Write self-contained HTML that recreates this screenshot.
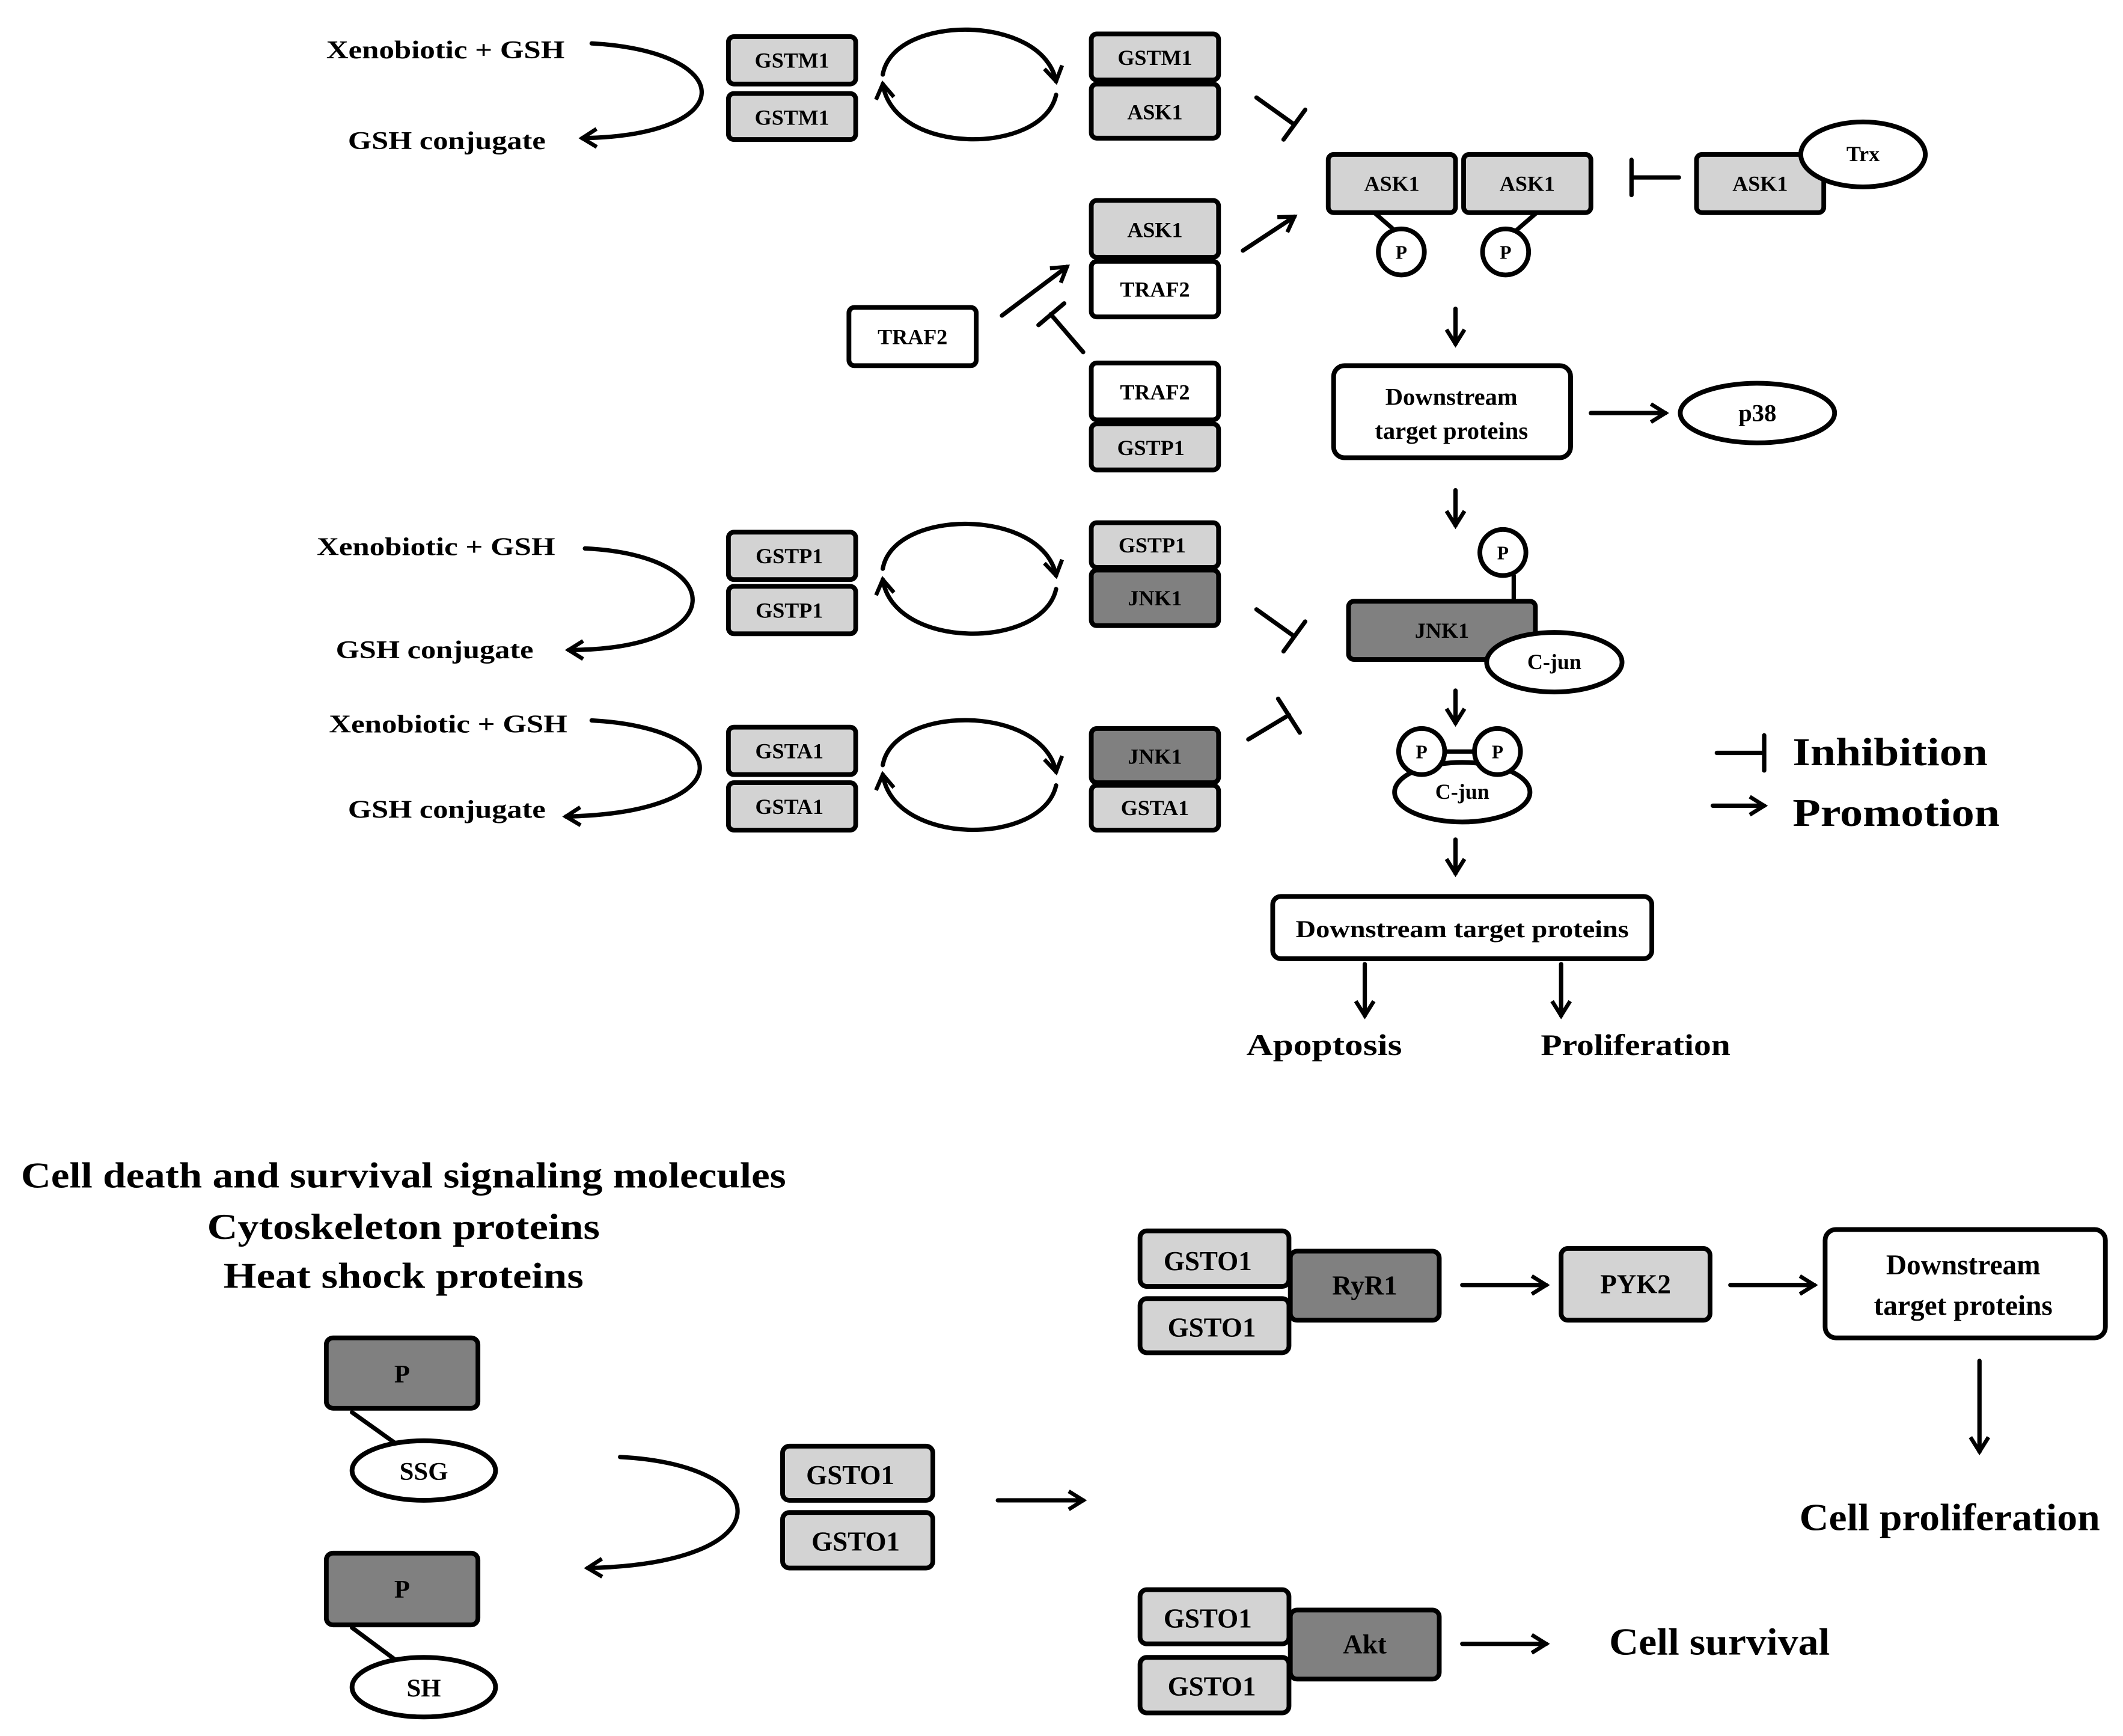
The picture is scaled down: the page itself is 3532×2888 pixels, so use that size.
<!DOCTYPE html>
<html><head><meta charset="utf-8"><style>html,body{margin:0;padding:0;background:#fff}svg{display:block}</style></head><body>
<svg width="3532" height="2888" viewBox="0 0 1568 1282" xmlns="http://www.w3.org/2000/svg" font-family="'Liberation Serif',serif" font-weight="bold">
<defs>
<marker id="a" viewBox="0 0 12 12" refX="10" refY="6" markerWidth="5" markerHeight="5" orient="auto" markerUnits="strokeWidth"><polyline points="2,1 10,6 2,11" fill="none" stroke="#000" stroke-width="2.2"/></marker>
</defs>
<rect width="1568" height="1282" fill="#fff"/>
<g stroke="#000" stroke-width="3.2" fill="none" stroke-linecap="round">
<path d="M437,32 C545,38 548,100 430,102" marker-end="url(#a)"/>
<path d="M432,405 C540,410 540,480 420,480" marker-end="url(#a)"/>
<path d="M437,532 C545,538 548,600 418,603" marker-end="url(#a)"/>
<path d="M458,1076 C575,1082 580,1155 434,1158" marker-end="url(#a)"/>
<path d="M652,55 C660,10 770,10 780,60" marker-end="url(#a)"/>
<path d="M780,70 C770,115 660,115 652,62" marker-end="url(#a)"/>
<path d="M652,420 C660,375 770,375 780,425" marker-end="url(#a)"/>
<path d="M780,435 C770,480 660,480 652,428" marker-end="url(#a)"/>
<path d="M652,565 C660,520 770,520 780,570" marker-end="url(#a)"/>
<path d="M780,580 C770,625 660,625 652,572" marker-end="url(#a)"/>
<path d="M918,185 L956,160" marker-end="url(#a)"/>
<path d="M740,233 L788,197" marker-end="url(#a)"/>
<path d="M1075,228 L1075,254" marker-end="url(#a)"/>
<path d="M1175,305 L1230,305" marker-end="url(#a)"/>
<path d="M1075,362 L1075,388" marker-end="url(#a)"/>
<path d="M1075,510 L1075,534" marker-end="url(#a)"/>
<path d="M1075,620 L1075,645" marker-end="url(#a)"/>
<path d="M1008,712 L1008,750" marker-end="url(#a)"/>
<path d="M1153,712 L1153,750" marker-end="url(#a)"/>
<path d="M1265,595 L1303,595" marker-end="url(#a)"/>
<path d="M737,1108 L800,1108" marker-end="url(#a)"/>
<path d="M1080,949 L1142,949" marker-end="url(#a)"/>
<path d="M1278,949 L1340,949" marker-end="url(#a)"/>
<path d="M1462,1005 L1462,1072" marker-end="url(#a)"/>
<path d="M1080,1214 L1142,1214" marker-end="url(#a)"/>
<path d="M928,72 L956,92 M948,103 L964,81"/>
<path d="M928,450 L956,470 M948,481 L964,459"/>
<path d="M922,546 L952,528 M944,516 L960,541"/>
<path d="M1240,131 L1205,131 M1205,118 L1205,144"/>
<path d="M800,260 L776,232 M767,240 L786,224"/>
<path d="M1268,556 L1303,556 M1303,543 L1303,569"/>
<path d="M1015,157 L1030,170 M1135,157 L1120,170 M1118,425 L1118,445 M1066,555 L1090,555 M260,1043 L295,1068 M260,1202 L295,1228"/>
</g>
<g stroke="#000" stroke-width="3.5">
<g fill="#d3d3d3">
<rect x="538" y="27" width="94" height="35" rx="4"/><rect x="538" y="69" width="94" height="34" rx="4"/>
<rect x="806" y="25" width="94" height="34" rx="4"/><rect x="806" y="62" width="94" height="40" rx="4"/>
<rect x="981" y="114" width="94" height="43" rx="4"/><rect x="1081" y="114" width="94" height="43" rx="4"/>
<rect x="1253" y="114" width="94" height="43" rx="4"/>
<rect x="806" y="148" width="94" height="42" rx="4"/>
<rect x="806" y="313" width="94" height="34" rx="4"/>
<rect x="538" y="393" width="94" height="35" rx="4"/><rect x="538" y="433" width="94" height="35" rx="4"/>
<rect x="806" y="386" width="94" height="33" rx="4"/>
<rect x="538" y="537" width="94" height="35" rx="4"/><rect x="538" y="578" width="94" height="35" rx="4"/>
<rect x="806" y="580" width="94" height="33" rx="4"/>
<rect x="578" y="1068" width="111" height="40" rx="5"/><rect x="578" y="1117" width="111" height="41" rx="5"/>
<rect x="842" y="909" width="110" height="41" rx="5"/><rect x="842" y="959" width="110" height="40" rx="5"/>
<rect x="1153" y="922" width="110" height="53" rx="5"/>
<rect x="842" y="1174" width="110" height="40" rx="5"/><rect x="842" y="1224" width="110" height="41" rx="5"/>
</g>
<g fill="#808080">
<rect x="806" y="421" width="94" height="41" rx="4"/>
<rect x="806" y="538" width="94" height="40" rx="4"/>
<rect x="996" y="444" width="138" height="43" rx="4"/>
<rect x="241" y="988" width="112" height="52" rx="5"/>
<rect x="241" y="1147" width="112" height="53" rx="5"/>
<rect x="953" y="924" width="110" height="51" rx="5"/>
<rect x="953" y="1189" width="110" height="51" rx="5"/>
</g>
<g fill="#fff">
<ellipse cx="1376" cy="114" rx="46" ry="24"/>
<rect x="806" y="193" width="94" height="41" rx="4"/>
<rect x="627" y="227" width="94" height="43" rx="4"/>
<rect x="806" y="268" width="94" height="42" rx="4"/>
<rect x="985" y="270" width="175" height="68" rx="8"/>
<ellipse cx="1298" cy="305" rx="57" ry="22"/>
<circle cx="1035" cy="186" r="17"/><circle cx="1112" cy="186" r="17"/>
<circle cx="1110" cy="408" r="17"/>
<ellipse cx="1148" cy="489" rx="50" ry="22"/>
<ellipse cx="1080" cy="585" rx="50" ry="22"/>
<circle cx="1050" cy="555" r="17"/><circle cx="1106" cy="555" r="17"/>
<rect x="940" y="662" width="280" height="46" rx="6"/>
<ellipse cx="313" cy="1086" rx="53" ry="22"/>
<ellipse cx="313" cy="1246" rx="53" ry="22"/>
<rect x="1348" y="908" width="207" height="80" rx="8"/>
</g>
</g>
<g text-anchor="middle" font-size="16" fill="#000">
<text x="585" y="50">GSTM1</text><text x="585" y="92">GSTM1</text>
<text x="853" y="48">GSTM1</text><text x="853" y="88">ASK1</text>
<text x="1028" y="141">ASK1</text><text x="1128" y="141">ASK1</text>
<text x="1300" y="141">ASK1</text><text x="1376" y="119">Trx</text>
<text x="853" y="175">ASK1</text><text x="853" y="219">TRAF2</text>
<text x="674" y="254">TRAF2</text>
<text x="853" y="295">TRAF2</text><text x="850" y="336">GSTP1</text>
<text x="583" y="416">GSTP1</text><text x="583" y="456">GSTP1</text>
<text x="851" y="408">GSTP1</text><text x="853" y="447">JNK1</text>
<text x="583" y="560">GSTA1</text><text x="583" y="601">GSTA1</text>
<text x="853" y="564">JNK1</text><text x="853" y="602">GSTA1</text>
<text x="1065" y="471">JNK1</text><text x="1148" y="494">C-jun</text><text x="1080" y="590">C-jun</text>
<text x="1035" y="191" font-size="14">P</text><text x="1112" y="191" font-size="14">P</text>
<text x="1110" y="413" font-size="14">P</text>
<text x="1050" y="560" font-size="14">P</text><text x="1106" y="560" font-size="14">P</text>
</g>
<g text-anchor="middle" fill="#000" lengthAdjust="spacingAndGlyphs">
<text x="1072" y="299" font-size="18">Downstream</text><text x="1072" y="324" font-size="18">target proteins</text>
<text x="1298" y="311" font-size="18">p38</text>
<text x="1080" y="692" font-size="18" textLength="246" lengthAdjust="spacingAndGlyphs">Downstream target proteins</text>
<text x="329" y="43" font-size="19" textLength="176" lengthAdjust="spacingAndGlyphs">Xenobiotic + GSH</text><text x="330" y="110" font-size="19" textLength="146" lengthAdjust="spacingAndGlyphs">GSH conjugate</text>
<text x="322" y="410" font-size="19" textLength="176" lengthAdjust="spacingAndGlyphs">Xenobiotic + GSH</text><text x="321" y="486" font-size="19" textLength="146" lengthAdjust="spacingAndGlyphs">GSH conjugate</text>
<text x="331" y="541" font-size="19" textLength="176" lengthAdjust="spacingAndGlyphs">Xenobiotic + GSH</text><text x="330" y="604" font-size="19" textLength="146" lengthAdjust="spacingAndGlyphs">GSH conjugate</text>
<text x="978" y="779" font-size="22" textLength="115" lengthAdjust="spacingAndGlyphs">Apoptosis</text><text x="1208" y="779" font-size="22" textLength="140" lengthAdjust="spacingAndGlyphs">Proliferation</text>
<text x="298" y="877" font-size="27" textLength="565" lengthAdjust="spacingAndGlyphs">Cell death and survival signaling molecules</text>
<text x="298" y="915" font-size="27" textLength="290" lengthAdjust="spacingAndGlyphs">Cytoskeleton proteins</text>
<text x="298" y="951" font-size="27" textLength="266" lengthAdjust="spacingAndGlyphs">Heat shock proteins</text>
<text x="297" y="1021" font-size="19">P</text><text x="297" y="1180" font-size="19">P</text>
<text x="313" y="1093" font-size="19">SSG</text><text x="313" y="1253" font-size="19">SH</text>
<text x="628" y="1096" font-size="20">GSTO1</text><text x="632" y="1145" font-size="20">GSTO1</text>
<text x="892" y="938" font-size="20">GSTO1</text><text x="895" y="987" font-size="20">GSTO1</text>
<text x="1008" y="956" font-size="20">RyR1</text><text x="1208" y="955" font-size="20">PYK2</text>
<text x="1450" y="941" font-size="21">Downstream</text><text x="1450" y="971" font-size="21">target proteins</text>
<text x="1440" y="1130" font-size="28" textLength="222" lengthAdjust="spacingAndGlyphs">Cell proliferation</text>
<text x="892" y="1202" font-size="20">GSTO1</text><text x="895" y="1252" font-size="20">GSTO1</text>
<text x="1008" y="1221" font-size="20">Akt</text>
<text x="1270" y="1222" font-size="28" textLength="163" lengthAdjust="spacingAndGlyphs">Cell survival</text>
</g>
<g fill="#000" font-size="29"><text x="1324" y="565" textLength="144" lengthAdjust="spacingAndGlyphs">Inhibition</text><text x="1324" y="610" textLength="153" lengthAdjust="spacingAndGlyphs">Promotion</text></g>
</svg>
</body></html>
